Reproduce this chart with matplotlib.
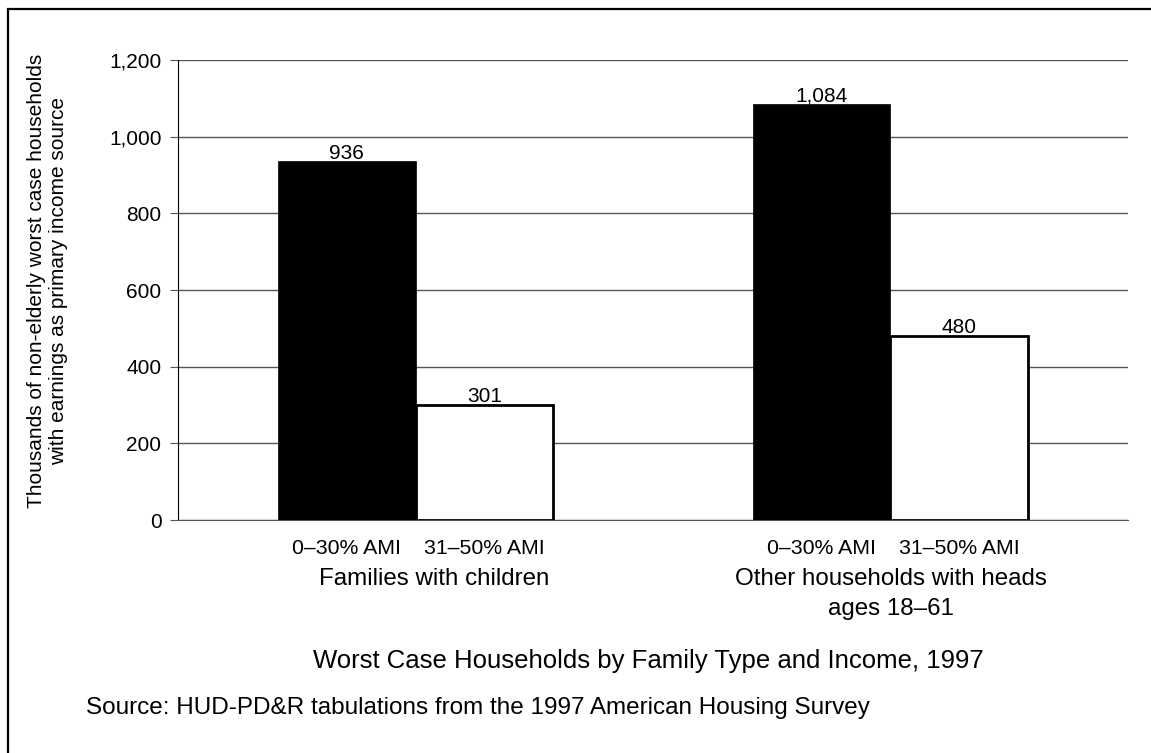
import matplotlib
matplotlib.use("Agg")
import matplotlib.pyplot as plt
from matplotlib.patches import Rectangle

# data
groups = ["Families with children", "Other households with heads\nages 18\u201361"]
income_bands = ["0\u201330% AMI", "31\u201350% AMI"]
lowest_income = [936, 1084]
low_income = [301, 480]
yticks = [0, 200, 400, 600, 800, 1000, 1200]

plt.rcParams['font.family'] = ['Liberation Sans', 'DejaVu Sans']

fig = plt.figure(figsize=(11.51, 7.53), dpi=100)
ax = fig.add_axes([0.1547, 0.3094, 0.98 - 0.1547, 0.9203 - 0.3094])

# outer frame of the figure (open at right and bottom as in the source)
fig.patches.append(Rectangle((8 / 1151, -0.1), 1.2, 1 - 9 / 753 + 0.1,
                             transform=fig.transFigure, fill=False,
                             edgecolor='black', linewidth=1.6))

width = 0.29
x = [0, 1]
left_x = [g - width / 2 for g in x]
right_x = [g + width / 2 for g in x]

ax.bar(left_x, lowest_income, width=width, color='black', edgecolor='black',
       linewidth=0.5, zorder=3)
ax.bar(right_x, low_income, width=width, color='white', edgecolor='black',
       linewidth=2, zorder=3)

# value labels
for xs, vals in ((left_x, lowest_income), (right_x, low_income)):
    for xi, v in zip(xs, vals):
        ax.annotate("{:,}".format(v), (xi, v), xytext=(0, -1),
                    textcoords='offset points', ha='center', va='bottom',
                    fontsize=15, zorder=4)

ax.set_xlim(-0.5, 1.5)
ax.set_ylim(0, 1200)
ax.set_yticks(yticks)
ax.set_yticklabels(["{:,}".format(t) for t in yticks], fontsize=15)
ax.yaxis.grid(True, color='#555555', linewidth=1)
ax.set_axisbelow(True)

tick_pos = []
tick_lab = []
for lx, rx in zip(left_x, right_x):
    tick_pos += [lx, rx]
    tick_lab += income_bands
ax.set_xticks(tick_pos)
ax.set_xticklabels(tick_lab, fontsize=15.3)
ax.tick_params(axis='x', length=0, pad=14)
ax.tick_params(axis='y', length=6, color='#555555', pad=6)

for side in ('top', 'right'):
    ax.spines[side].set_visible(False)
ax.spines['left'].set_color('black')
ax.spines['bottom'].set_color('#555555')

# group labels below the band labels
offsets = [0.04, 0.0]
label_y = -(568 - 520) / 460
for g, label, off in zip(x, groups, offsets):
    ax.text(g + off, label_y, label, transform=ax.get_xaxis_transform(),
            ha='center', va='top', fontsize=17.4, linespacing=1.45)

ax.set_ylabel("Thousands of non-elderly worst case households\n"
              "with earnings as primary income source", fontsize=15,
              linespacing=1.2)
ax.yaxis.set_label_coords((68 - 178) / 950, (520 - 281) / 460)

fig.text(313 / 1151, 1 - 661 / 753, "Worst Case Households by Family Type and Income, 1997",
         ha='left', va='center', fontsize=18.5)
fig.text(86 / 1151, 1 - 708 / 753,
         "Source: HUD-PD&R tabulations from the 1997 American Housing Survey",
         ha='left', va='center', fontsize=17.5)

fig.savefig("out.png", dpi=100)
